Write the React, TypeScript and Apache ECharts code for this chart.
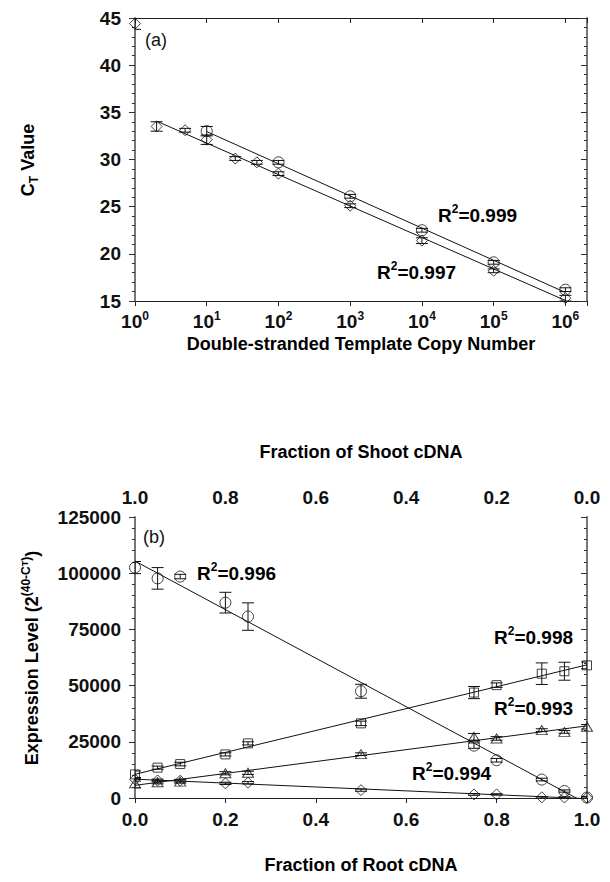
import React, { useEffect, useRef } from 'react';
import * as echarts from 'echarts';

// Panel (a): standard curve, C_T versus template copy number
const copyNumbers = [1, 2, 5, 10, 25, 50, 100, 1e3, 1e4, 1e5, 1e6];
const ctDiamond = [44.4, 33.5, 33.1, 32.1, 30.1, 29.7, 28.5, 25.1, 21.4, 18.2, 15.3];
const ctDiamondErr = [0.6, 0.5, 0.2, 0.5, 0.2, 0.2, 0.2, 0.2, 0.3, 0.2, 0.3];
const circleCopies = [10, 100, 1e3, 1e4, 1e5, 1e6];
const ctCircle = [33.0, 29.7, 26.1, 22.5, 19.1, 16.2];
const ctCircleErr = [0.5, 0.2, 0.2, 0.2, 0.2, 0.2];
const r2A = ['0.999', '0.997'];
const ctTicks = [15, 20, 25, 30, 35, 40, 45];

// Panel (b): expression level across root/shoot cDNA mixtures
const rootFraction = [0, 0.05, 0.1, 0.2, 0.25, 0.5, 0.75, 0.8, 0.9, 0.95, 1.0];
const exprCircle = [102500, 97700, 98500, 86900, 80700, 47500, 23300, 16800, 8200, 3100, 200];
const exprCircleErr = [2700, 4800, 1000, 4600, 6100, 3100, 1200, 800, 600, 500, 500];
const exprSquare = [10500, 13500, 15100, 19400, 24300, 33200, 46900, 50200, 55300, 56400, 59000];
const exprSquareErr = [1500, 700, 800, 700, 700, 1000, 2700, 1000, 4800, 4000, 1500];
const exprTriangle = [6500, 7000, 7300, 11000, 11200, 19500, 27200, 26500, 30200, 29400, 31700];
const exprTriangleErr = [2000, 700, 700, 700, 700, 600, 1500, 800, 600, 600, 1000];
const exprDiamond = [8300, 7800, 7700, 6500, 6800, 3500, 1600, 1600, 300, 200, 100];
const exprDiamondErr = [800, 600, 600, 500, 500, 500, 400, 300, 300, 300, 300];
const r2B = ['0.996', '0.998', '0.993', '0.994'];
const exprTicks = [0, 25000, 50000, 75000, 100000, 125000];
const fractionTicks = [0, 0.2, 0.4, 0.6, 0.8, 1.0];

const FONT = '"Liberation Sans", Arial, Helvetica, sans-serif';
const INK = '#111';

// least-squares line y = a + b * t
function fit(ts: number[], ys: number[]) {
  const n = ts.length;
  const mt = ts.reduce((s, v) => s + v, 0) / n;
  const my = ys.reduce((s, v) => s + v, 0) / n;
  let sxy = 0;
  let sxx = 0;
  for (let i = 0; i < n; i++) {
    sxy += (ts[i] - mt) * (ys[i] - my);
    sxx += (ts[i] - mt) * (ts[i] - mt);
  }
  const b = sxy / sxx;
  return { a: my - b * mt, b };
}

function logFitLine(xs: number[], ys: number[]) {
  const { a, b } = fit(xs.map((x) => Math.log10(x)), ys);
  const x0 = xs[0];
  const x1 = xs[xs.length - 1];
  return [
    [x0, a + b * Math.log10(x0)],
    [x1, a + b * Math.log10(x1)],
  ];
}

function linFitLine(xs: number[], ys: number[]) {
  const { a, b } = fit(xs, ys);
  const x0 = xs[0];
  const x1 = xs[xs.length - 1];
  return [
    [x0, a + b * x0],
    [x1, a + b * x1],
  ];
}

const errorBars = (capHalf: number) => (_params: any, api: any) => {
  const x = api.value(0);
  const y = api.value(1);
  const e = api.value(2);
  const hi = api.coord([x, y + e]);
  const lo = api.coord([x, y - e]);
  const style = { stroke: INK, lineWidth: 1, fill: null };
  return {
    type: 'group',
    children: [
      { type: 'line', shape: { x1: hi[0], y1: hi[1], x2: lo[0], y2: lo[1] }, style },
      { type: 'line', shape: { x1: hi[0] - capHalf, y1: hi[1], x2: hi[0] + capHalf, y2: hi[1] }, style },
      { type: 'line', shape: { x1: lo[0] - capHalf, y1: lo[1], x2: lo[0] + capHalf, y2: lo[1] }, style },
    ],
  };
};

const hollow = { color: 'rgba(0,0,0,0)', borderColor: INK, borderWidth: 1 };

function scatter(name: string, xs: number[], ys: number[], symbol: string, size: any, axis: number) {
  return {
    name,
    type: 'scatter',
    xAxisIndex: axis,
    yAxisIndex: axis,
    symbol,
    symbolSize: size,
    itemStyle: hollow,
    data: xs.map((x, i) => [x, ys[i]]),
    z: 4,
  };
}

function bars(name: string, xs: number[], ys: number[], es: number[], axis: number) {
  return {
    name,
    type: 'custom',
    xAxisIndex: axis,
    yAxisIndex: axis,
    renderItem: errorBars(6),
    clip: true,
    data: xs.map((x, i) => [x, ys[i], es[i]]),
    z: 3,
  };
}

function fitLine(name: string, pts: number[][], axis: number) {
  return {
    name,
    type: 'line',
    xAxisIndex: axis,
    yAxisIndex: axis,
    data: pts,
    showSymbol: false,
    symbol: 'none',
    clip: true,
    lineStyle: { color: INK, width: 1 },
    z: 2,
  };
}

const tickLabel = { fontFamily: FONT, fontSize: 19, fontWeight: 'bold' as const, color: INK };
const richText = {
  t: { fontFamily: FONT, fontSize: 19, fontWeight: 'bold', color: INK, lineHeight: 24 },
  sup: { fontFamily: FONT, fontSize: 12, fontWeight: 'bold', color: INK, lineHeight: 13, verticalAlign: 'top' },
};
const titleRich = {
  t: { fontFamily: FONT, fontSize: 18, fontWeight: 'bold', color: INK, lineHeight: 24 },
  sup: { fontFamily: FONT, fontSize: 12, fontWeight: 'bold', color: INK, lineHeight: 13, verticalAlign: 'top' },
  sub: { fontFamily: FONT, fontSize: 12, fontWeight: 'bold', color: INK, lineHeight: 13, verticalAlign: 'bottom' },
  ssub: { fontFamily: FONT, fontSize: 9, fontWeight: 'bold', color: INK, lineHeight: 21, verticalAlign: 'top' },
};

function label(text: string, x: number, y: number, rich: any, extra: any = {}) {
  const { align, ...rest } = extra;
  return {
    type: 'text',
    x,
    y,
    ...rest,
    style: { text, rich, align: align || 'left', verticalAlign: 'middle' },
  };
}

function plainLabel(text: string, x: number, y: number) {
  return {
    type: 'text',
    x,
    y,
    style: { text, font: `18px ${FONT}`, fill: INK, align: 'left', verticalAlign: 'middle' },
  };
}

const axisLineDark = { show: true, lineStyle: { color: '#222', width: 1 } };
const axisLineGrey = { show: true, lineStyle: { color: '#777', width: 2 } };

function buildOption() {
  const powLabel = (v: number) => {
    const e = Math.round(Math.log10(v));
    return Math.abs(Math.pow(10, e) - v) < 1e-6 * v ? `{b|10}{s|${e}}` : '';
  };
  const ctMin = ctTicks[0];
  const ctMax = ctTicks[ctTicks.length - 1];
  const exMin = exprTicks[0];
  const exMax = exprTicks[exprTicks.length - 1];
  const frMin = fractionTicks[0];
  const frMax = fractionTicks[fractionTicks.length - 1];

  // the copy-number-1 reading sits off the curve and is left out of the fit
  const fitData = copyNumbers.slice(1);
  const fitCt = ctDiamond.slice(1);

  return {
    animation: false,
    backgroundColor: '#fff',
    grid: [
      { left: 135, top: 18, width: 452, height: 283 },
      { left: 135, top: 517, width: 452, height: 281 },
    ],
    xAxis: [
      {
        gridIndex: 0, type: 'log', logBase: 10, min: 1, max: 2e6, position: 'bottom',
        axisLine: axisLineDark,
        axisTick: { show: true, inside: false, length: 5, lineStyle: { color: '#222' } },
        axisLabel: {
          formatter: powLabel, margin: 9,
          rich: {
            b: { fontFamily: FONT, fontSize: 19, fontWeight: 'bold', color: INK, lineHeight: 22 },
            s: { fontFamily: FONT, fontSize: 12, fontWeight: 'bold', color: INK, lineHeight: 13, verticalAlign: 'top' },
          },
        },
        splitLine: { show: false },
      },
      {
        gridIndex: 0, type: 'log', logBase: 10, min: 1, max: 2e6, position: 'top',
        axisLine: axisLineDark,
        axisTick: { show: true, inside: true, length: 5, lineStyle: { color: '#222' } },
        axisLabel: { show: false },
        splitLine: { show: false },
      },
      {
        gridIndex: 1, type: 'value', min: frMin, max: frMax, interval: 0.2, position: 'bottom',
        axisLine: axisLineDark,
        axisTick: { show: true, inside: false, length: 5, lineStyle: { color: '#222' } },
        axisLabel: { ...tickLabel, margin: 12, formatter: (v: number) => v.toFixed(1) },
        splitLine: { show: false },
      },
      {
        gridIndex: 1, type: 'value', min: frMin, max: frMax, interval: 0.2, position: 'top', inverse: true,
        axisLine: axisLineDark,
        axisTick: { show: true, inside: true, length: 5, lineStyle: { color: '#222' } },
        axisLabel: { ...tickLabel, margin: 10, formatter: (v: number) => v.toFixed(1) },
        splitLine: { show: false },
      },
    ],
    yAxis: [
      {
        gridIndex: 0, type: 'value', min: ctMin, max: ctMax, interval: 5, position: 'left',
        axisLine: axisLineGrey,
        axisTick: { show: true, inside: false, length: 6, lineStyle: { color: '#333' } },
        minorTick: { show: true, splitNumber: 5, length: 3, lineStyle: { color: '#333' } },
        axisLabel: { ...tickLabel, margin: 14, formatter: (v: number) => String(v) },
        splitLine: { show: false },
        minorSplitLine: { show: false },
      },
      {
        gridIndex: 0, type: 'value', min: ctMin, max: ctMax, interval: 5, position: 'right',
        axisLine: axisLineGrey,
        axisTick: { show: true, inside: true, length: 6, lineStyle: { color: '#333' } },
        minorTick: { show: true, splitNumber: 5, length: 3, lineStyle: { color: '#333' } },
        axisLabel: { show: false },
        splitLine: { show: false },
      },
      {
        gridIndex: 1, type: 'value', min: exMin, max: exMax, interval: 25000, position: 'left',
        axisLine: axisLineGrey,
        axisTick: { show: true, inside: false, length: 6, lineStyle: { color: '#333' } },
        minorTick: { show: true, splitNumber: 5, length: 3, lineStyle: { color: '#333' } },
        axisLabel: { ...tickLabel, margin: 14, formatter: (v: number) => String(v) },
        splitLine: { show: false },
      },
      {
        gridIndex: 1, type: 'value', min: exMin, max: exMax, interval: 25000, position: 'right',
        axisLine: axisLineGrey,
        axisTick: { show: true, inside: true, length: 6, lineStyle: { color: '#333' } },
        minorTick: { show: true, splitNumber: 5, length: 3, lineStyle: { color: '#333' } },
        axisLabel: { show: false },
        splitLine: { show: false },
      },
    ],
    series: [
      // panel (a)
      fitLine('fitCircleA', logFitLine(circleCopies, ctCircle), 0),
      fitLine('fitDiamondA', logFitLine(fitData, fitCt), 0),
      bars('errCircleA', circleCopies, ctCircle, ctCircleErr, 0),
      bars('errDiamondA', copyNumbers, ctDiamond, ctDiamondErr, 0),
      scatter('circleA', circleCopies, ctCircle, 'circle', 11, 0),
      scatter('diamondA', copyNumbers, ctDiamond, 'diamond', [11, 11], 0),
      // panel (b)
      fitLine('fitCircleB', linFitLine(rootFraction, exprCircle), 2),
      fitLine('fitSquareB', linFitLine(rootFraction, exprSquare), 2),
      fitLine('fitTriangleB', linFitLine(rootFraction, exprTriangle), 2),
      fitLine('fitDiamondB', linFitLine(rootFraction, exprDiamond), 2),
      bars('errCircleB', rootFraction, exprCircle, exprCircleErr, 2),
      bars('errSquareB', rootFraction, exprSquare, exprSquareErr, 2),
      bars('errTriangleB', rootFraction, exprTriangle, exprTriangleErr, 2),
      bars('errDiamondB', rootFraction, exprDiamond, exprDiamondErr, 2),
      scatter('circleB', rootFraction, exprCircle, 'circle', 11, 2),
      scatter('squareB', rootFraction, exprSquare, 'rect', 9, 2),
      scatter('triangleB', rootFraction, exprTriangle, 'triangle', [11, 9], 2),
      scatter('diamondB', rootFraction, exprDiamond, 'diamond', [11, 11], 2),
    ],
    graphic: [
      plainLabel('(a)', 145, 40),
      plainLabel('(b)', 143, 537),
      label(`{t|R}{sup|2}{t|=${r2A[0]}}`, 438, 215, richText),
      label(`{t|R}{sup|2}{t|=${r2A[1]}}`, 377, 272, richText),
      label(`{t|R}{sup|2}{t|=${r2B[0]}}`, 197, 573, richText),
      label(`{t|R}{sup|2}{t|=${r2B[1]}}`, 494, 637, richText),
      label(`{t|R}{sup|2}{t|=${r2B[2]}}`, 494, 708, richText),
      label(`{t|R}{sup|2}{t|=${r2B[3]}}`, 412, 773, richText),
      label('{t|C}{sub|T}{t| Value}', 28, 160, titleRich, { rotation: Math.PI / 2, align: 'center' }),
      label('{t|Double-stranded Template Copy Number}', 361, 344, titleRich, { align: 'center' }),
      label('{t|Fraction of Shoot cDNA}', 361, 452, titleRich, { align: 'center' }),
      label('{t|Fraction of Root cDNA}', 361, 865, titleRich, { align: 'center' }),
      label('{t|Expression Level (2}{sup|(40-C}{ssub|T}{sup|)}{t|)}', 32, 658, titleRich, { rotation: Math.PI / 2, align: 'center' }),
    ],
  };
}

export default function App() {
  const ref = useRef<HTMLDivElement>(null);
  useEffect(() => {
    if (!ref.current) return;
    const chart = echarts.init(ref.current, undefined, { renderer: 'svg' });
    chart.setOption(buildOption() as any);
    return () => chart.dispose();
  }, []);
  return (
    <div
      ref={ref}
      style={{ position: 'absolute', left: 0, top: 0, width: 610, height: 882, background: '#fff' }}
    />
  );
}
